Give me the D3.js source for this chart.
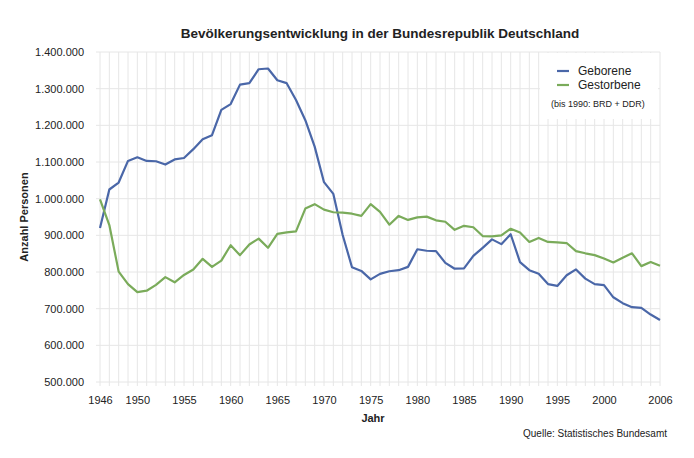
<!DOCTYPE html>
<meta charset="utf-8">
<title>Bevölkerungsentwicklung</title>
<script src="https://d3js.org/d3.v7.min.js"></script>
<style>
  body { margin: 0; background: #fff; }
  text { font-family: "Liberation Sans", Arial, sans-serif; fill: #222; }
</style>
<body>
<svg id="chart" width="694" height="458"></svg>
</body>
<script>
// Jahre 1946..2006
let years = d3.range(1946, 2007)

// Lebendgeborene
let geborene = [
    920000, 1025000, 1044000, 1103000, 1113000, 1103000, 1102000, 1093000, 1107000, 1111000,
    1135000, 1162000, 1173000, 1242000, 1258000, 1311000, 1315000, 1353000, 1355000, 1323000,
    1315000, 1269000, 1214000, 1142000, 1045000, 1013000, 901000, 813000, 803000, 780000,
    795000, 802000, 805000, 814000, 862000, 858000, 857000, 825000, 809000, 810000,
    844000, 866000, 889000, 876000, 903000, 827000, 805000, 795000, 767000, 762000,
    791000, 807000, 782000, 767000, 764000, 731000, 715000, 704000, 702000, 684000,
    669000
]

// Gestorbene
let gestorbene = [
    998000, 928000, 801000, 767000, 745000, 749000, 765000, 786000, 772000, 792000,
    807000, 836000, 814000, 831000, 873000, 846000, 875000, 891000, 866000, 904000,
    908000, 911000, 973000, 985000, 970000, 963000, 962000, 959000, 953000, 985000,
    964000, 929000, 953000, 942000, 949000, 951000, 941000, 937000, 915000, 926000,
    922000, 898000, 897000, 900000, 918000, 908000, 882000, 893000, 882000, 881000,
    879000, 857000, 851000, 846000, 837000, 826000, 839000, 851000, 816000, 827000,
    817000
]

let yTicks = d3.range(500000, 1400001, 100000)
let xTickLabels = [1946, 1950, 1955, 1960, 1965, 1970, 1975, 1980, 1985, 1990, 1995, 2000, 2006]

let series = [
    { name: "Geborene", values: geborene, color: "#4a67a8" },
    { name: "Gestorbene", values: gestorbene, color: "#7aab5a" }
]

let svg = d3.select("#chart")
let plotLeft = 100, plotRight = 660, plotTop = 52, plotBottom = 382

let x = d3.scaleLinear().domain([1946, 2006]).range([plotLeft, plotRight])
let y = d3.scaleLinear().domain([500000, 1400000]).range([plotBottom, plotTop])

let fmt = d3.formatLocale({ decimal: ",", thousands: ".", grouping: [3], currency: ["", "€"] }).format(",d")

// Gitter
svg.append("g")
    .selectAll("line").data(years).enter().append("line")
    .attr("x1", d => x(d)).attr("x2", d => x(d))
    .attr("y1", plotTop).attr("y2", plotBottom + 4)
    .attr("stroke", "#e6e6e6").attr("stroke-width", 1)

svg.append("g")
    .selectAll("line").data(yTicks).enter().append("line")
    .attr("x1", plotLeft - 4).attr("x2", plotRight)
    .attr("y1", d => y(d)).attr("y2", d => y(d))
    .attr("stroke", "#e6e6e6").attr("stroke-width", 1)

// Achsen
let yAxis = svg.append("g")
    .attr("transform", `translate(${plotLeft - 13},0)`)
    .call(d3.axisLeft(y).tickValues(yTicks).tickFormat(fmt).tickSize(0))
yAxis.select(".domain").remove()
yAxis.selectAll("text").attr("font-size", 11).attr("fill", "#333")
    .style("font-family", "'Liberation Sans', Arial, sans-serif")

let xAxis = svg.append("g")
    .attr("transform", `translate(0,${plotBottom + 11})`)
    .call(d3.axisBottom(x).tickValues(xTickLabels).tickFormat(d3.format("d")).tickSize(0))
xAxis.select(".domain").remove()
xAxis.selectAll("text").attr("font-size", 11).attr("fill", "#333")
    .style("font-family", "'Liberation Sans', Arial, sans-serif")

// Linien
let line = d3.line()
    .x((d, i) => x(years[i]))
    .y(d => y(d))

svg.selectAll("path.serie").data(series).enter().append("path")
    .attr("class", "serie")
    .attr("d", d => line(d.values))
    .attr("fill", "none")
    .attr("stroke", d => d.color)
    .attr("stroke-width", 2.2)
    .attr("stroke-linejoin", "round")

// Legende
svg.append("rect")
    .attr("x", 540).attr("y", 53).attr("width", 118).attr("height", 66)
    .attr("fill", "#fff")

let legend = svg.selectAll("g.leg").data(series).enter().append("g")
    .attr("class", "leg")
    .attr("transform", (d, i) => `translate(557,${71 + i * 14})`)
legend.append("line")
    .attr("x1", 0).attr("x2", 12).attr("y1", 0).attr("y2", 0)
    .attr("stroke", d => d.color).attr("stroke-width", 2.2)
legend.append("text")
    .attr("x", 21).attr("y", 4)
    .attr("font-size", 12)
    .text(d => d.name)

svg.append("text")
    .attr("x", 551).attr("y", 107)
    .attr("font-size", 9)
    .text("(bis 1990: BRD + DDR)")

// Beschriftungen
svg.append("text")
    .attr("x", 380).attr("y", 38)
    .attr("text-anchor", "middle")
    .attr("font-size", 13.5).attr("font-weight", "bold")
    .text("Bevölkerungsentwicklung in der Bundesrepublik Deutschland")

svg.append("text")
    .attr("transform", "translate(28,217) rotate(-90)")
    .attr("text-anchor", "middle")
    .attr("font-size", 11).attr("font-weight", "bold")
    .text("Anzahl Personen")

svg.append("text")
    .attr("x", 373).attr("y", 422)
    .attr("text-anchor", "middle")
    .attr("font-size", 11).attr("font-weight", "bold")
    .text("Jahr")

svg.append("text")
    .attr("x", 667).attr("y", 437)
    .attr("text-anchor", "end")
    .attr("font-size", 10)
    .text("Quelle: Statistisches Bundesamt")
</script>
